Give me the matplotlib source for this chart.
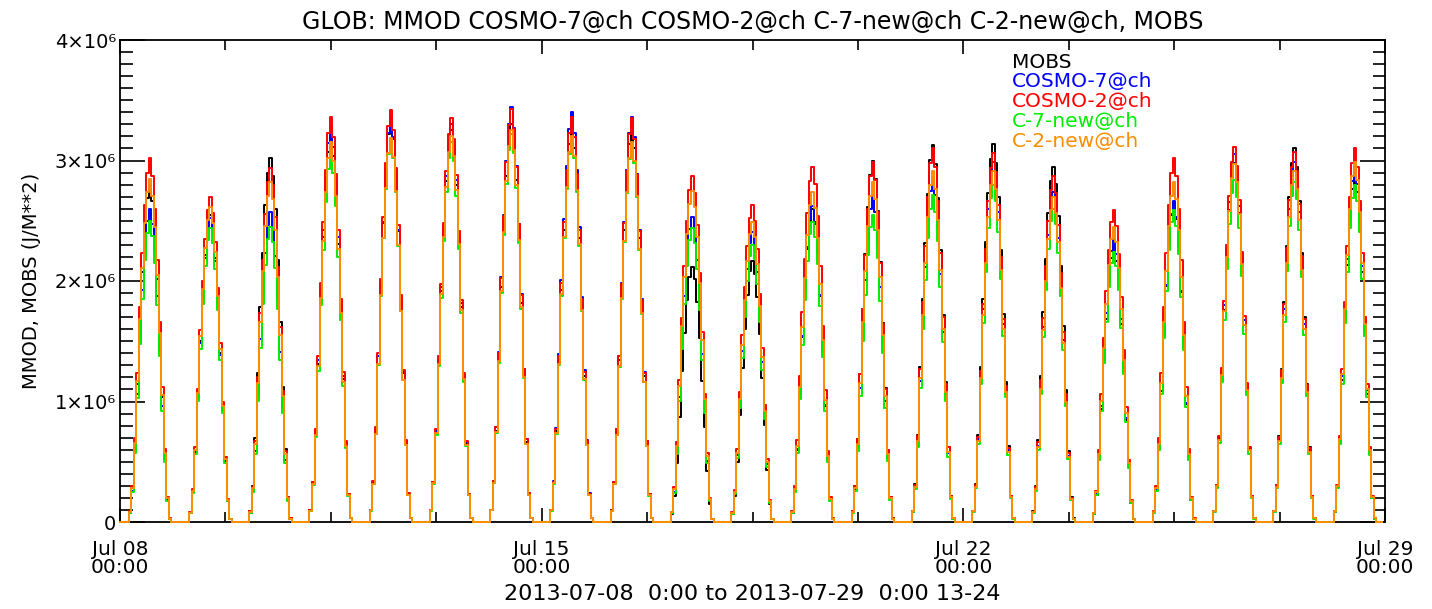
import numpy as np
import matplotlib
matplotlib.use("Agg")
import matplotlib.pyplot as plt
from matplotlib.ticker import MultipleLocator, FixedLocator

# ---------------- data ----------------
days = list(range(21))  # Jul 08 .. Jul 28
# normalised hourly diurnal profile (hour 0..23 UTC), read from a clear day
profile = [0, 0, 0, 0, 0.03, 0.10, 0.23, 0.41, 0.59, 0.74, 0.87, 0.96,
           1.00, 0.95, 0.86, 0.72, 0.55, 0.37, 0.20, 0.07, 0.01, 0, 0, 0]

# daily peak hourly values (J/m**2, in units of 1e6) per series
peak_mobs = [2.80, 2.55, 3.02, 3.20, 3.35, 3.25, 3.30, 3.27, 3.27, 2.12, 2.17,
             2.60, 3.00, 3.13, 3.14, 2.95, 2.28, 2.65, 2.98, 3.10, 2.88]
peak_c7 = [2.60, 2.52, 2.57, 3.28, 3.36, 3.30, 3.44, 3.40, 3.36, 2.53, 2.41,
           2.62, 2.71, 2.86, 2.99, 2.74, 2.34, 2.66, 3.05, 2.99, 2.95]
peak_c2 = [3.02, 2.70, 2.94, 3.36, 3.42, 3.35, 3.43, 3.36, 3.35, 2.87, 2.63,
           2.95, 2.99, 3.10, 3.06, 2.87, 2.59, 3.02, 3.11, 3.07, 3.10]
peak_c7new = [2.50, 2.44, 2.45, 3.05, 3.18, 3.15, 3.22, 3.18, 3.14, 2.44, 2.30,
              2.49, 2.55, 2.71, 2.80, 2.60, 2.24, 2.59, 2.84, 2.82, 2.80]
peak_c2new = [2.85, 2.61, 2.82, 3.15, 3.19, 3.20, 3.25, 3.20, 3.15, 2.75, 2.49,
              2.74, 2.82, 2.91, 2.91, 2.70, 2.45, 2.82, 2.97, 2.91, 2.99]

series_names = ["MOBS", "COSMO-7@ch", "COSMO-2@ch", "C-7-new@ch", "C-2-new@ch"]
series_peaks = [peak_mobs, peak_c7, peak_c2, peak_c7new, peak_c2new]
series_colors = ["black", "#0000ff", "#ff0000", "#00ee00", "#ff8c00"]

xtick_pos = [0, 7, 14, 21]
xtick_labels = ["Jul 08\n00:00", "Jul 15\n00:00", "Jul 22\n00:00", "Jul 29\n00:00"]
ytick_pos = [0, 1e6, 2e6, 3e6, 4e6]
ytick_labels = ["0", "1×10⁶", "2×10⁶", "3×10⁶", "4×10⁶"]

title = "GLOB: MMOD COSMO-7@ch COSMO-2@ch C-7-new@ch C-2-new@ch, MOBS"
xlabel = "2013-07-08  0:00 to 2013-07-29  0:00 13-24"
ylabel = "MMOD, MOBS (J/M**2)"

# ---------------- figure ----------------
plt.rcParams['font.family'] = ['DejaVu Sans']
fig = plt.figure(figsize=(14.32, 6.09), dpi=100)
ax = fig.add_axes([120/1432, 1-522/609, 1265/1432, 482/609])

t = np.arange(len(days) * 24) / 24.0
prof = np.tile(np.array(profile), len(days))
for name, pk, col in zip(series_names, series_peaks, series_colors):
    y = np.repeat(np.array(pk) * 1e6, 24) * prof
    ax.plot(t, y, drawstyle='steps-mid', color=col, lw=1.4, zorder=3,
            clip_on=False)

ax.set_xlim(0, 21)
ax.set_ylim(0, 4e6)

ax.xaxis.set_major_locator(FixedLocator(xtick_pos))
ax.set_xticklabels(xtick_labels)
ax.xaxis.set_minor_locator(MultipleLocator(1.75))
ax.yaxis.set_major_locator(FixedLocator(ytick_pos))
ax.set_yticklabels(ytick_labels)
ax.yaxis.set_minor_locator(MultipleLocator(1e5))

ax.tick_params(axis='both', which='both', direction='in', top=True, right=True,
               width=1.2, colors='black')
ax.tick_params(axis='y', which='major', length=18, labelsize=14, pad=3)
ax.tick_params(axis='y', which='minor', length=9)
ax.tick_params(axis='x', which='major', length=10, labelsize=14.5, pad=13)
ax.tick_params(axis='x', which='minor', length=7)
for lab in ax.get_xticklabels():
    lab.set_linespacing(0.9)
for s in ax.spines.values():
    s.set_linewidth(1.3)

ax.set_title(title, fontsize=17, pad=8)
ax.set_xlabel(xlabel, fontsize=16, labelpad=5)
ax.set_ylabel(ylabel, fontsize=14, labelpad=10)

# legend as coloured texts
leg_y = [62, 81, 101, 121, 141]
for name, col, yy in zip(series_names, series_colors, leg_y):
    fig.text(1012/1432, 1 - yy/609, name, color=col, fontsize=14.5,
             ha='left', va='center')

fig.savefig("out.png", dpi=100)
